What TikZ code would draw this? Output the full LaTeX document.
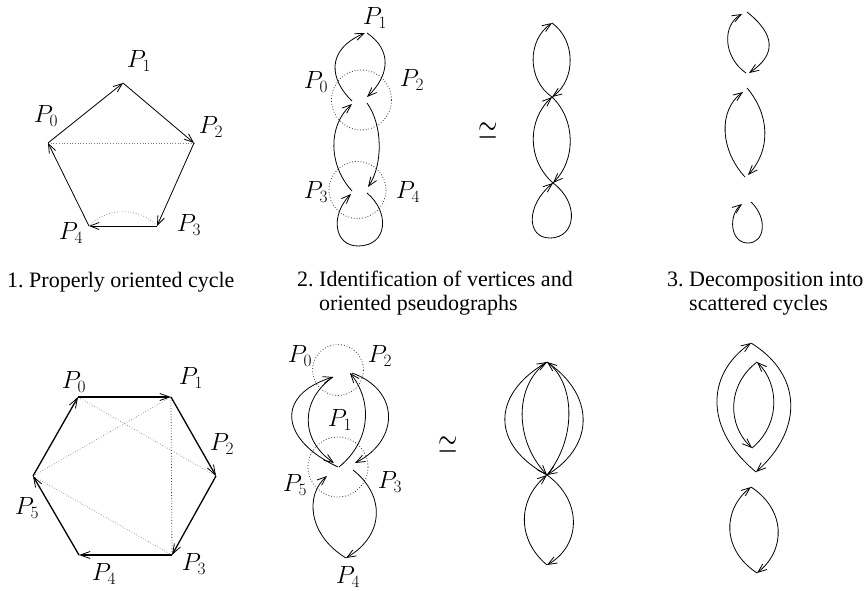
\documentclass[tikz,border=0pt]{standalone}
\usepackage[no-math]{fontspec}
\setmainfont{Liberation Serif}
\usetikzlibrary{arrows.meta}
\tikzset{
  edge/.style={line width=0.8pt, -{Straight Barb[length=9pt,width=7pt]}},
  thickedge/.style={line width=1.3pt, -{Straight Barb[length=10pt,width=7pt,line width=0.8pt]}},
  faint/.style={gray, dotted, line width=0.7pt},
  ring/.style={black!80, dotted, line width=0.8pt},
  lab/.style={font=\fontsize{24}{28}\selectfont, inner sep=0pt},
  captext/.style={font=\fontsize{22}{24}\selectfont, inner sep=0pt, anchor=base west},
  eqv/.style={font=\fontsize{25}{28}\selectfont, inner sep=0pt, yscale=1.45}
}
\begin{document}
\begin{tikzpicture}[x=1pt,y=-1pt]
\useasboundingbox (0,0) rectangle (867,591);

% ---------- panel 1 (pentagon) ----------
\coordinate (a0) at (48,143);
\coordinate (a1) at (123,83);
\coordinate (a2) at (194,143);
\coordinate (a3) at (157,226);
\coordinate (a4) at (89,226);
\draw[faint] (a0) -- (a2);
\draw[faint] (a3) .. controls (140,207) and (106,207) .. (a4);
\draw[edge] (a0) -- (a1);
\draw[edge] (a1) -- (a2);
\draw[edge] (a2) -- (a3);
\draw[edge] (a3) -- (a4);
\draw[edge] (a4) -- (a0);
\node[lab] (la1) at (139,61) {$P_1$};
\node[lab] (la0) at (46,116) {$P_0$};
\node[lab] (la2) at (211,127) {$P_2$};
\node[lab] (la3) at (189,225) {$P_3$};
\node[lab] (la4) at (71,233) {$P_4$};

% ---------- panel 2 (identification) ----------
\draw[ring] (361.5,100) circle (30);
\draw[ring] (357.5,190) circle (28.5);
\coordinate (b1a) at (365,33);
\coordinate (b1b) at (367,33);
\coordinate (b0a) at (352,101);
\coordinate (b2a) at (367,97);
\coordinate (b2b) at (367,103);
\coordinate (b0b) at (352,104);
\coordinate (b3a) at (352,191);
\coordinate (b4a) at (368,187);
\coordinate (b4b) at (367,193);
\coordinate (b3b) at (351,194);
\draw[edge] (b0a) .. controls (330,80) and (325,50) .. (b1a);
\draw[edge] (b1b) .. controls (392,50) and (390,75) .. (b2a);
\draw[edge] (b2b) .. controls (383,125) and (383,165) .. (b4a);
\draw[edge] (b3a) .. controls (328,165) and (328,125) .. (b0b);
\draw[edge] (b4b) .. controls (390,212) and (388,246) .. (358,246)
                  .. controls (334,246) and (330,215) .. (b3b);
\node[lab] (lb1) at (375,18) {$P_1$};
\node[lab] (lb0) at (316,82) {$P_0$};
\node[lab] (lb2) at (412,80) {$P_2$};
\node[lab] (lb3) at (316,192) {$P_3$};
\node[lab] (lb4) at (408,192) {$P_4$};
\node[eqv] (eq1) at (488,131) {$\simeq$};

% ---------- panel 3 (pseudograph) ----------
\coordinate (c0) at (552,23);
\coordinate (c1) at (552,97);
\coordinate (c2) at (553,183);
\draw[edge] (c1) .. controls (527,80) and (527,40) .. (c0);
\draw[edge] (c0) .. controls (576,40) and (576,80) .. (c1);
\draw[edge] (c1) .. controls (576,120) and (576,160) .. (c2);
\draw[edge] (c2) .. controls (527,160) and (527,120) .. (c1);
\draw[edge] (c2) .. controls (580,203) and (576,238) .. (550,238)
                .. controls (526,238) and (526,205) .. (c2);

% ---------- panel 4 (scattered cycles) ----------
\coordinate (d0a) at (742,14);
\coordinate (d0b) at (747,12);
\coordinate (d1a) at (746,73);
\coordinate (d1b) at (749,73);
\draw[edge] (d1a) .. controls (723,57) and (722,25) .. (d0a);
\draw[edge] (d0b) .. controls (776,35) and (776,55) .. (d1b);
\coordinate (d2a) at (743,92);
\coordinate (d2b) at (747,88);
\coordinate (d3a) at (745,177);
\coordinate (d3b) at (748,175);
\draw[edge] (d3a) .. controls (720,150) and (718,110) .. (d2a);
\draw[edge] (d2b) .. controls (770,115) and (771,150) .. (d3b);
\coordinate (d4a) at (742,204);
\coordinate (d4b) at (751,202);
\draw[edge] (d4b) .. controls (768,218) and (765,243) .. (748,243)
                 .. controls (730,243) and (728,215) .. (d4a);

% ---------- captions ----------
\node[captext] (cap1) at (7,287) {1.\ Properly oriented cycle};
\node[captext] (cap2) at (297,286) {\begin{tabular}[t]{@{}l@{\ }l@{}}2. & Identification of vertices and\\ & oriented pseudographs\end{tabular}};
\node[captext] (cap3) at (667,286) {\begin{tabular}[t]{@{}l@{\ }l@{}}3. & Decomposition into\\ & scattered cycles\end{tabular}};

% ---------- panel 5 (hexagon) ----------
\coordinate (h0) at (78,397);
\coordinate (h1) at (171,397);
\coordinate (h2) at (216,476);
\coordinate (h3) at (172,555);
\coordinate (h4) at (79,555);
\coordinate (h5) at (33,476);
\draw[faint] (h0) -- (h2);
\draw[faint] (h5) -- (h1);
\draw[faint] (h5) -- (h3);
\draw[ring] (h1) -- (h3);
\draw[thickedge] (h0) -- (h1);
\draw[thickedge] (h1) -- (h2);
\draw[thickedge] (h2) -- (h3);
\draw[thickedge] (h3) -- (h4);
\draw[thickedge] (h4) -- (h5);
\draw[thickedge] (h5) -- (h0);
\node[lab] (lh0) at (74,382) {$P_0$};
\node[lab] (lh1) at (191,378) {$P_1$};
\node[lab] (lh2) at (222,444) {$P_2$};
\node[lab] (lh3) at (194,564) {$P_3$};
\node[lab] (lh4) at (104,574) {$P_4$};
\node[lab] (lh5) at (27,508) {$P_5$};

% ---------- panel 6 (identification) ----------
\draw[ring] (338,370) circle (25.5);
\draw[ring] (338,467) circle (30);
\coordinate (e0) at (333,377);
\coordinate (e2) at (350,373);
\coordinate (e2b) at (352,373);
\coordinate (m1) at (338,467);
\coordinate (m2) at (334,463);
\coordinate (m3) at (339,467);
\coordinate (m4) at (355,463);
\coordinate (m5) at (353,470);
\coordinate (m6) at (327,476);
\coordinate (e4) at (346,558);
\draw[edge] (m1) .. controls (280,440) and (275,395) .. (e0);
\draw[edge] (e0) .. controls (300,400) and (300,440) .. (m2);
\draw[edge] (m3) .. controls (372,440) and (372,400) .. (e2);
\draw[edge] (e2b) .. controls (400,390) and (400,440) .. (m4);
\draw[edge] (m5) .. controls (385,495) and (385,535) .. (e4);
\draw[edge] (e4) .. controls (308,535) and (305,495) .. (m6);
\node[lab] (le0) at (300,356) {$P_0$};
\node[lab] (le2) at (380,356) {$P_2$};
\node[lab] (le1) at (340,420) {$P_1$};
\node[lab] (le5) at (295,485) {$P_5$};
\node[lab] (le3) at (390,482) {$P_3$};
\node[lab] (le4) at (348,577) {$P_4$};
\node[eqv] (eq2) at (448,445) {$\simeq$};

% ---------- panel 7 (pseudograph) ----------
\coordinate (f0) at (547,362);
\coordinate (f1) at (547,475);
\coordinate (f2) at (547,565);
\draw[edge] (f1) .. controls (491,445) and (491,395) .. (f0);
\draw[edge] (f0) .. controls (514,385) and (514,440) .. (f1);
\draw[edge] (f1) .. controls (576,440) and (576,385) .. (f0);
\draw[edge] (f0) .. controls (595,395) and (595,445) .. (f1);
\draw[edge] (f1) .. controls (582,500) and (582,545) .. (f2);
\draw[edge] (f2) .. controls (517,540) and (517,500) .. (f1);

% ---------- panel 8 (scattered cycles) ----------
\coordinate (g0) at (751,343);
\coordinate (g1) at (756,472);
\draw[edge] (g1) .. controls (705,430) and (705,375) .. (g0);
\draw[edge] (g0) .. controls (803,375) and (803,430) .. (g1);
\coordinate (g2) at (757,362);
\coordinate (g3) at (752,448);
\draw[edge] (g2) .. controls (727,385) and (727,425) .. (g3);
\draw[edge] (g3) .. controls (780,425) and (780,385) .. (g2);
\coordinate (g4) at (751,487);
\coordinate (g5) at (757,573);
\draw[edge] (g5) .. controls (722,550) and (722,510) .. (g4);
\draw[edge] (g4) .. controls (786,510) and (786,550) .. (g5);
\end{tikzpicture}
\end{document}
